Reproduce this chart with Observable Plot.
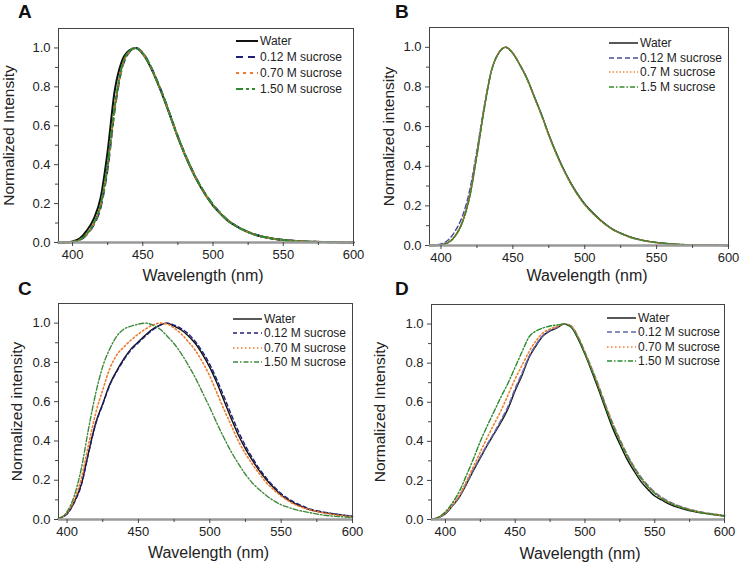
<!DOCTYPE html>
<html><head><meta charset="utf-8">
<script src="https://cdn.jsdelivr.net/npm/d3@7"></script>
<script src="https://cdn.jsdelivr.net/npm/@observablehq/plot@0.6"></script>
<style>
body{margin:0;background:#fff;}
#root{position:relative;width:740px;height:567px;overflow:hidden;font-family:"Liberation Sans",Arial,sans-serif;background:#fff;}
.panel{position:absolute;}
.plabel{position:absolute;font-weight:bold;font-size:19px;line-height:1;color:#111;}
.leg{position:absolute;font-size:12px;line-height:14px;display:flex;align-items:center;white-space:nowrap;color:#222;}
.leg svg{display:block;margin-right:1px;}
</style></head><body><div id="root"></div>
<script>
// ---------- ticks ----------
const xTicks = [400, 450, 500, 550, 600];
const xMinor = [425, 475, 525, 575];
const yTicks = [0, 0.2, 0.4, 0.6, 0.8, 1.0];
const yMinor = [0.1, 0.3, 0.5, 0.7, 0.9];

// ---------- labels ----------
const labelsA = ["Water", "0.12 M sucrose", "0.70 M sucrose", "1.50 M sucrose"];
const labelsB = ["Water", "0.12 M sucrose", "0.7 M sucrose", "1.5 M sucrose"];
const labelsC = ["Water", "0.12 M sucrose", "0.70 M sucrose", "1.50 M sucrose"];
const labelsD = ["Water", "0.12 M sucrose", "0.70 M sucrose", "1.50 M sucrose"];

// ---------- panel A ----------
const wlA = [390,395,400,405,410,415,420,425,430,435,440,445,450,455,460,465,470,475,480,485,490,495,500,505,510,515,520,525,530,540,550,560,570,580,590,600];
const waterA = [0,0,0.005,0.02,0.06,0.12,0.23,0.47,0.78,0.93,0.985,1.0,0.97,0.91,0.83,0.74,0.64,0.54,0.45,0.37,0.30,0.24,0.19,0.15,0.115,0.09,0.07,0.053,0.04,0.023,0.013,0.007,0.004,0.002,0.001,0];
const s012A = [0,0,0.003,0.012,0.04,0.09,0.18,0.38,0.68,0.89,0.975,1.0,0.975,0.915,0.835,0.745,0.645,0.545,0.455,0.375,0.305,0.245,0.195,0.153,0.118,0.092,0.071,0.054,0.041,0.023,0.013,0.007,0.004,0.002,0.001,0];
const s070A = [0,0,0.003,0.013,0.042,0.095,0.19,0.39,0.69,0.895,0.978,1.0,0.972,0.912,0.832,0.742,0.642,0.542,0.452,0.372,0.302,0.242,0.192,0.151,0.116,0.091,0.07,0.053,0.04,0.023,0.013,0.007,0.004,0.002,0.001,0];
const s150A = [0,0,0.003,0.013,0.043,0.097,0.195,0.40,0.70,0.90,0.98,1.0,0.973,0.913,0.833,0.743,0.643,0.543,0.453,0.373,0.303,0.243,0.193,0.152,0.117,0.091,0.07,0.053,0.04,0.023,0.013,0.007,0.004,0.002,0.001,0];

// ---------- panel B ----------
const wlB = [392,395,400,405,410,415,420,425,430,435,440,445,450,455,460,465,470,475,480,485,490,495,500,505,510,515,520,525,530,540,550,560,570,580,590,600];
const waterB = [0,0,0.003,0.015,0.05,0.12,0.25,0.46,0.69,0.88,0.97,1.0,0.97,0.91,0.84,0.75,0.66,0.56,0.47,0.39,0.32,0.26,0.21,0.17,0.135,0.105,0.08,0.062,0.047,0.027,0.015,0.008,0.004,0.002,0.001,0];
const s012B = [0,0.002,0.008,0.028,0.075,0.15,0.28,0.48,0.70,0.88,0.97,1.0,0.97,0.91,0.838,0.748,0.658,0.558,0.468,0.388,0.318,0.258,0.208,0.168,0.133,0.104,0.079,0.061,0.046,0.026,0.015,0.008,0.004,0.002,0.001,0];
const s07B = [0,0,0.003,0.015,0.05,0.12,0.25,0.46,0.69,0.88,0.97,1.0,0.97,0.91,0.837,0.747,0.655,0.555,0.465,0.385,0.315,0.255,0.205,0.165,0.131,0.102,0.078,0.06,0.045,0.026,0.014,0.008,0.004,0.002,0.001,0];
const s15B = [0,0,0.003,0.014,0.048,0.118,0.245,0.455,0.685,0.878,0.97,1.0,0.97,0.91,0.838,0.748,0.657,0.557,0.467,0.387,0.317,0.257,0.207,0.167,0.133,0.103,0.079,0.061,0.046,0.026,0.015,0.008,0.004,0.002,0.001,0];

// ---------- panel C ----------
const wlC = [394,400,405,410,415,420,425,430,435,440,445,450,455,460,465,470,475,480,485,490,495,500,505,510,515,520,525,530,535,540,545,550,555,560,565,570,580,590,600];
const waterC = [0.005,0.03,0.09,0.18,0.34,0.49,0.59,0.69,0.76,0.82,0.87,0.905,0.94,0.97,0.99,1.0,0.985,0.965,0.935,0.895,0.84,0.775,0.695,0.605,0.515,0.43,0.36,0.30,0.245,0.20,0.16,0.125,0.10,0.08,0.065,0.05,0.035,0.025,0.015];
const s012C = [0.005,0.028,0.085,0.175,0.335,0.485,0.585,0.685,0.755,0.815,0.865,0.90,0.935,0.965,0.988,1.0,0.99,0.972,0.945,0.905,0.853,0.79,0.712,0.625,0.535,0.45,0.375,0.312,0.255,0.208,0.167,0.132,0.106,0.085,0.069,0.054,0.037,0.026,0.016];
const s070C = [0.005,0.035,0.10,0.21,0.38,0.54,0.66,0.77,0.84,0.88,0.915,0.945,0.97,0.99,1.0,0.995,0.975,0.945,0.905,0.86,0.80,0.73,0.645,0.56,0.48,0.40,0.335,0.28,0.23,0.185,0.15,0.12,0.095,0.075,0.061,0.05,0.033,0.022,0.013];
const s150C = [0.005,0.04,0.12,0.26,0.46,0.64,0.78,0.87,0.935,0.97,0.985,0.995,1.0,0.99,0.97,0.935,0.895,0.845,0.785,0.72,0.645,0.57,0.49,0.415,0.345,0.285,0.23,0.185,0.15,0.12,0.095,0.075,0.062,0.05,0.042,0.035,0.022,0.015,0.01];

// ---------- panel D ----------
const wlD = [390,395,400,405,410,415,420,425,430,435,440,445,450,455,460,465,470,475,480,485,490,495,500,505,510,515,520,525,530,535,540,545,550,555,560,570,580,590,600];
const waterD = [0,0.01,0.03,0.07,0.115,0.18,0.25,0.315,0.38,0.44,0.50,0.57,0.66,0.74,0.83,0.89,0.94,0.965,0.98,1.0,0.985,0.925,0.845,0.755,0.66,0.56,0.465,0.385,0.31,0.25,0.195,0.155,0.12,0.10,0.08,0.055,0.038,0.027,0.018];
const s012D = [0,0.01,0.03,0.07,0.118,0.185,0.255,0.32,0.385,0.445,0.51,0.58,0.67,0.75,0.835,0.895,0.943,0.968,0.983,1.0,0.99,0.935,0.855,0.77,0.68,0.58,0.49,0.41,0.335,0.272,0.218,0.175,0.14,0.113,0.092,0.063,0.043,0.03,0.02];
const s070D = [0,0.01,0.035,0.075,0.125,0.195,0.27,0.345,0.42,0.49,0.56,0.64,0.72,0.79,0.86,0.915,0.955,0.975,0.988,1.0,0.99,0.935,0.855,0.768,0.676,0.578,0.487,0.405,0.332,0.268,0.213,0.17,0.135,0.108,0.088,0.06,0.041,0.029,0.019];
const s150D = [0,0.012,0.04,0.085,0.145,0.225,0.31,0.40,0.48,0.555,0.63,0.70,0.78,0.86,0.935,0.965,0.98,0.99,0.995,1.0,0.985,0.93,0.85,0.762,0.67,0.572,0.48,0.40,0.328,0.265,0.21,0.168,0.133,0.106,0.086,0.059,0.04,0.028,0.019];

// ---------- rendering ----------
const FONT = "Liberation Sans, Arial, Helvetica, sans-serif";
const root = document.getElementById("root");

const panels = [
  {id:"A", left:0, top:0, width:370, height:282, mL:58, mR:17, mT:28, mB:40, xDomain:[390,600],
   wl:wlA, series:[waterA,s012A,s070A,s150A], labels:labelsA,
   colors:["#111","#1f1f78","#f07a2a","#2f8a2f"], dashes:[null,"7,5","3,4","7,3,3,3,3,3"], widths:[2,2,2,2],
   yLabel:"Normalized Intensity", yDx:-49, xDy:33, xDx:-3,
   leg:{x:236, lw:22, y0:41, dy:16}, plab:[18,2]},
  {id:"B", left:370, top:0, width:370, height:282, mL:59, mR:12, mT:27, mB:37, xDomain:[392,600],
   wl:wlB, series:[waterB,s012B,s07B,s15B], labels:labelsB,
   colors:["#111","#4a4a98","#f08a3a","#3a8a2a"], dashes:[null,"5,3","1.5,2","5,2,1.5,2"], widths:[1.4,1.4,1.6,1.4],
   yLabel:"Normalized intensity", yDx:-40, xDy:30, xDx:8,
   leg:{x:609, lw:29, y0:43, dy:14.7}, plab:[395,2]},
  {id:"C", left:0, top:282, width:370, height:285, mL:58, mR:18, mT:21, mB:48, xDomain:[394,600],
   wl:wlC, series:[waterC,s012C,s070C,s150C], labels:labelsC,
   colors:["#111","#1f1f78","#f07a2a","#3f8a3a"], dashes:[null,"4,3","1.5,2.5","5,2,1.5,2"], widths:[1.4,1.4,1.6,1.4],
   yLabel:"Normalized intensity", yDx:-41, xDy:33, xDx:3,
   leg:{x:233, lw:29, y0:319, dy:14.3}, plab:[18,279]},
  {id:"D", left:370, top:282, width:370, height:285, mL:61, mR:16, mT:22, mB:48, xDomain:[390,600],
   wl:wlD, series:[waterD,s012D,s070D,s150D], labels:labelsD,
   colors:["#111","#6464a8","#f08030","#2a8a2a"], dashes:[null,"5,3","1.5,2.5","5,2,1.5,2"], widths:[1.4,1.6,1.6,1.4],
   yLabel:"Normalized Intensity", yDx:-51, xDy:34, xDx:2,
   leg:{x:607, lw:29, y0:318, dy:14.3}, plab:[395,279]}
];

for (const p of panels) {
  const lines = p.series.map((vals, i) =>
    Plot.line(p.wl.map((w, j) => ({w, v: vals[j]})), {
      x: "w", y: "v", stroke: p.colors[i], strokeWidth: p.widths[i],
      strokeDasharray: p.dashes[i] || undefined, curve: "monotone-x"
    })
  );
  const chart = Plot.plot({
    width: p.width, height: p.height,
    marginLeft: p.mL, marginRight: p.mR, marginTop: p.mT, marginBottom: p.mB,
    style: {fontFamily: FONT, fontSize: "13px", background: "transparent", color: "#222", overflow: "visible"},
    x: {domain: p.xDomain},
    y: {domain: [0, 1.1]},
    marks: [
      ...lines,
      Plot.frame({stroke: "#444"}),
      Plot.ruleY([0], {stroke: "#9a9a9a", strokeWidth: 2.5}),
      Plot.axisX({ticks: xTicks, tickSize: 4, tickPadding: 3, label: null, stroke: "#444"}),
      Plot.axisX({ticks: xMinor, tickSize: 3, tickFormat: () => "", label: null, stroke: "#444"}),
      Plot.axisY({ticks: yTicks, tickSize: 4, tickPadding: 4, tickFormat: ".1f", label: null, stroke: "#444"}),
      Plot.axisY({ticks: yMinor, tickSize: 3, tickFormat: () => "", label: null, stroke: "#444"}),
      Plot.text(["Wavelength (nm)"], {frameAnchor: "bottom", dy: p.xDy, dx: p.xDx, fontSize: 16, fill: "#222", textAnchor: "middle", lineAnchor: "middle"}),
      Plot.text([p.yLabel], {frameAnchor: "left", rotate: -90, dx: p.yDx, fontSize: 15.5, fill: "#222", textAnchor: "middle", lineAnchor: "middle"})
    ]
  });
  const holder = document.createElement("div");
  holder.className = "panel";
  holder.style.left = p.left + "px";
  holder.style.top = p.top + "px";
  holder.appendChild(chart);
  root.appendChild(holder);

  const lab = document.createElement("div");
  lab.className = "plabel";
  lab.textContent = p.id;
  lab.style.left = p.plab[0] + "px";
  lab.style.top = p.plab[1] + "px";
  root.appendChild(lab);

  p.labels.forEach((t, i) => {
    const d = document.createElement("div");
    d.className = "leg";
    d.style.left = p.leg.x + "px";
    d.style.top = (p.leg.y0 + i * p.leg.dy - 7) + "px";
    const ns = "http://www.w3.org/2000/svg";
    const s = document.createElementNS(ns, "svg");
    s.setAttribute("width", p.leg.lw + 1);
    s.setAttribute("height", 6);
    const l = document.createElementNS(ns, "line");
    l.setAttribute("x1", 0); l.setAttribute("x2", p.leg.lw);
    l.setAttribute("y1", 3); l.setAttribute("y2", 3);
    l.setAttribute("stroke", p.colors[i]);
    l.setAttribute("stroke-width", p.widths[i]);
    if (p.dashes[i]) l.setAttribute("stroke-dasharray", p.dashes[i]);
    s.appendChild(l);
    d.appendChild(s);
    const span = document.createElement("span");
    span.textContent = t;
    d.appendChild(span);
    root.appendChild(d);
  });
}
</script></body></html>
